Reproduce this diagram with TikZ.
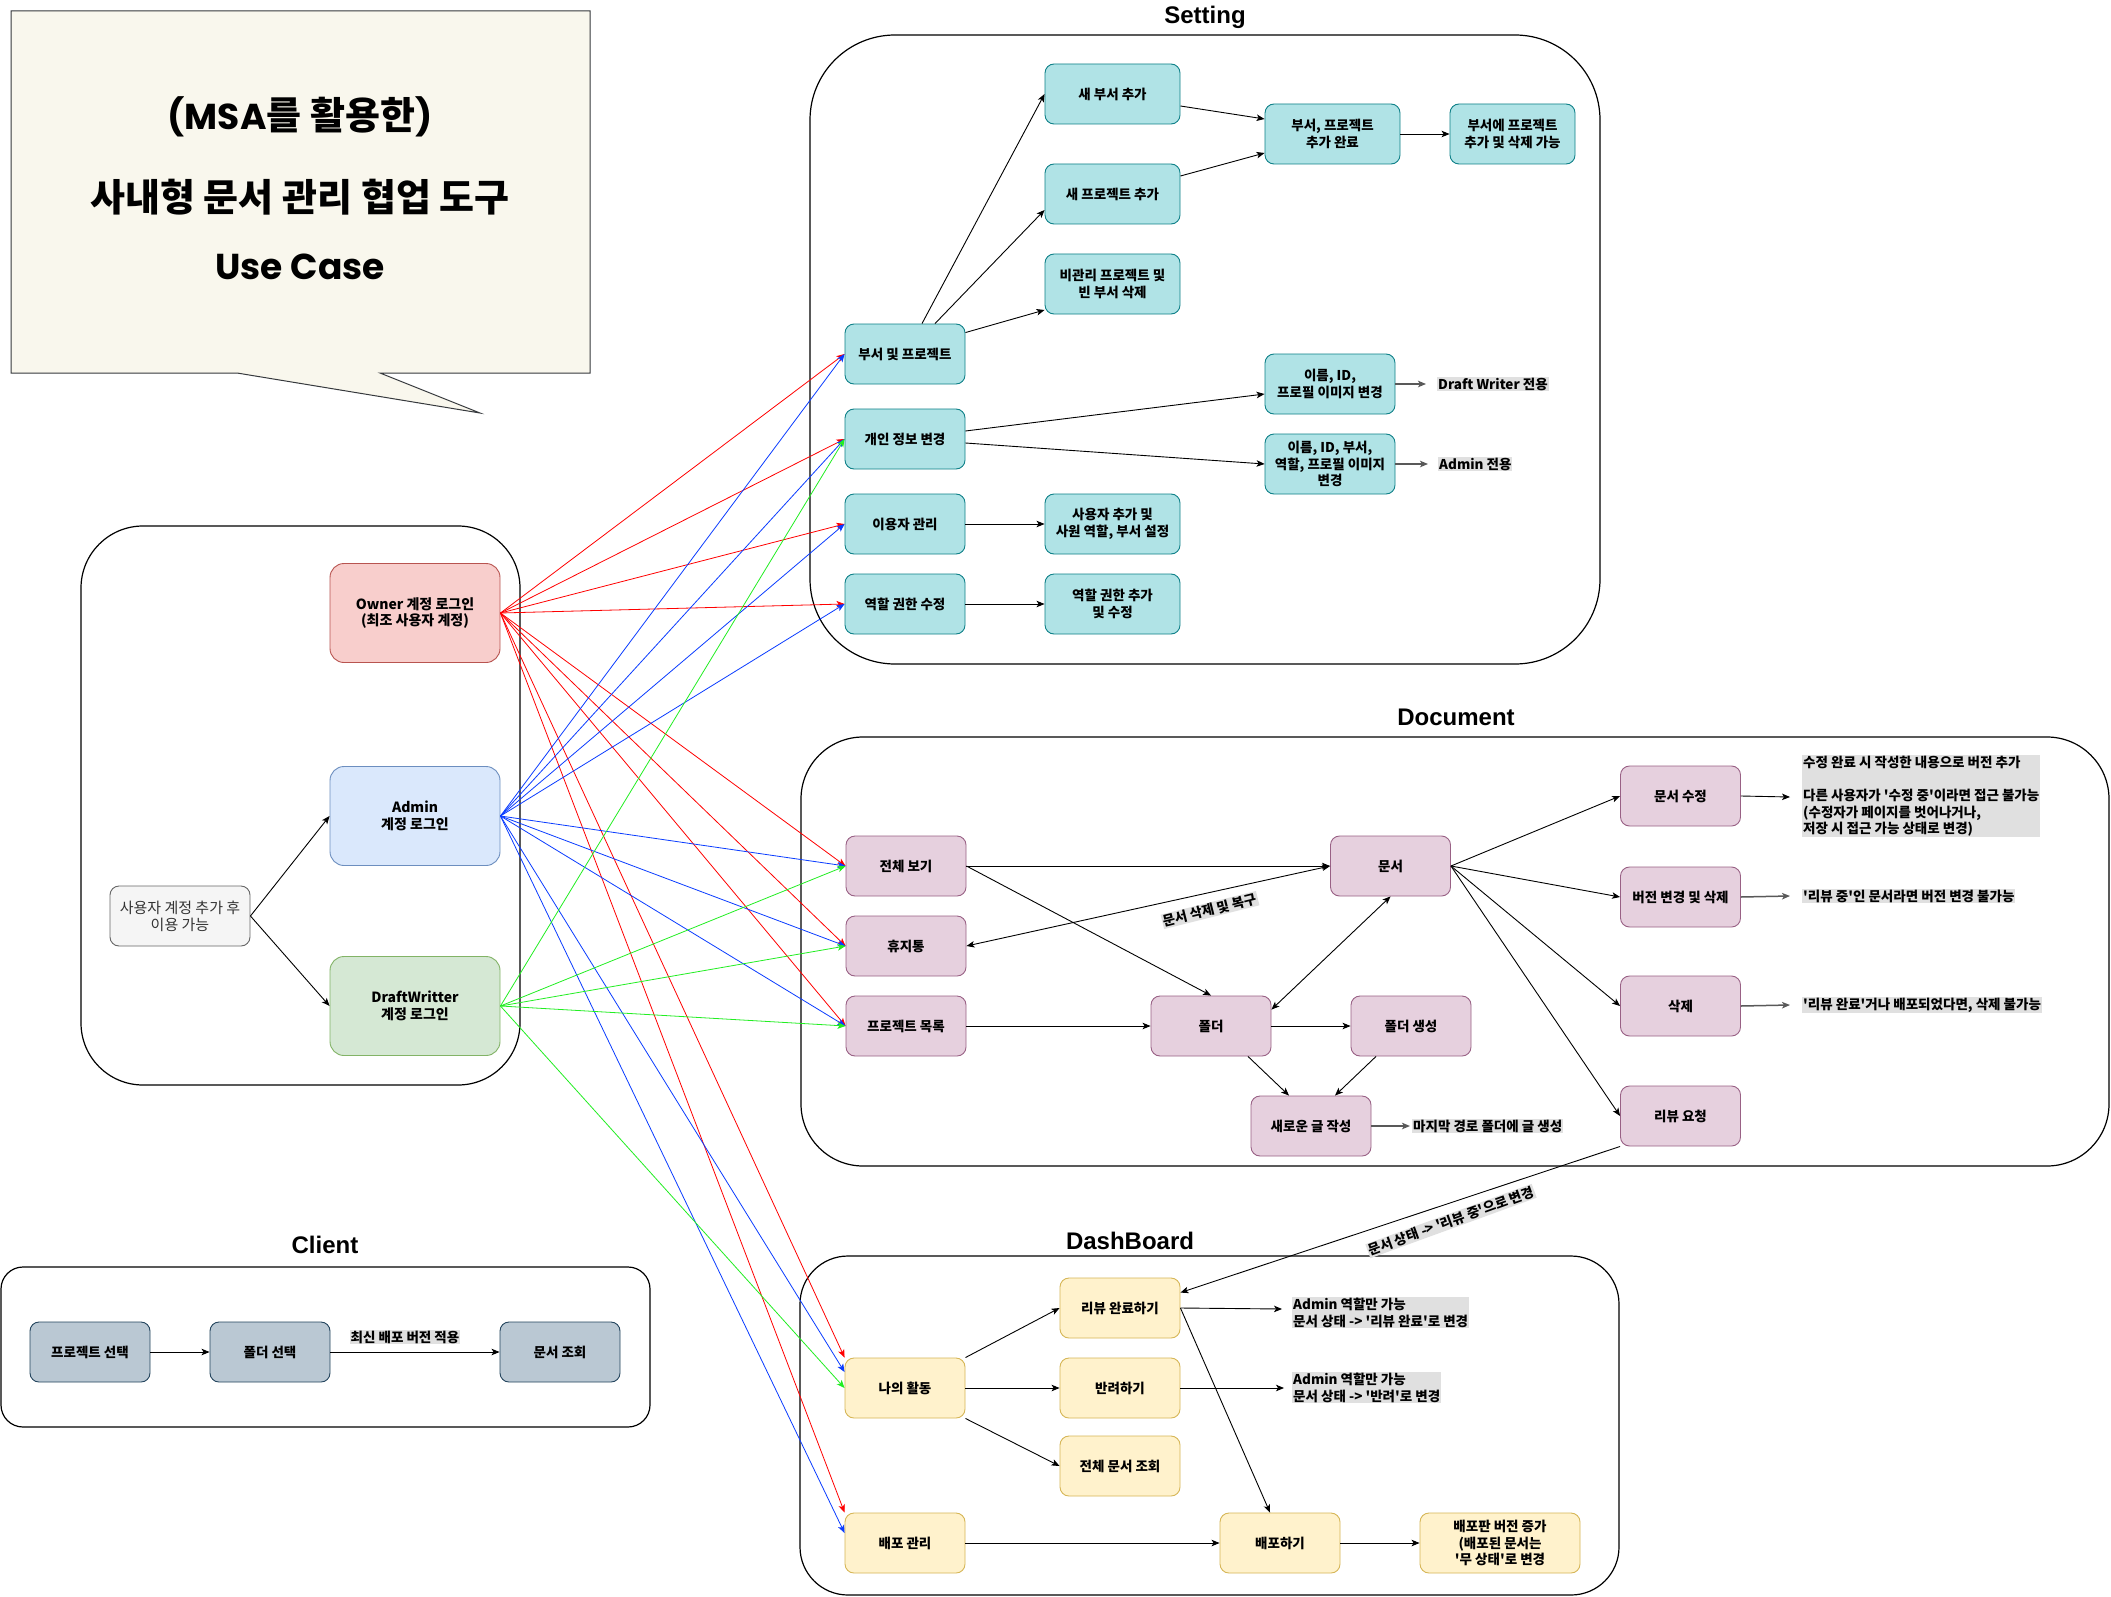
\documentclass[tikz,border=0pt]{standalone}
\usepackage{fontspec}
\setmainfont{Noto Sans CJK KR}
\newfontfamily\headfont{Liberation Sans}
\newfontfamily\titlelat{Poppins}
\newfontfamily\titlekr{Noto Sans CJK KR}
\usetikzlibrary{arrows.meta,calc}
\newcommand{\q}{\textquotesingle}
\definecolor{setF}{HTML}{B0E3E6}\definecolor{setD}{HTML}{0E8088}
\definecolor{docF}{HTML}{E6D0DE}\definecolor{docD}{HTML}{996185}
\definecolor{dashF}{HTML}{FFF2CC}\definecolor{dashD}{HTML}{D6B656}
\definecolor{cliF}{HTML}{BAC8D3}\definecolor{cliD}{HTML}{23445D}
\definecolor{ownF}{HTML}{F8CECC}\definecolor{ownD}{HTML}{B85450}
\definecolor{admF}{HTML}{DAE8FC}\definecolor{admD}{HTML}{6C8EBF}
\definecolor{dwF}{HTML}{D5E8D4}\definecolor{dwD}{HTML}{82B366}
\definecolor{usrF}{HTML}{F5F5F5}\definecolor{usrD}{HTML}{666666}\definecolor{usrT}{HTML}{333333}
\definecolor{noteF}{HTML}{F9F7ED}\definecolor{noteD}{HTML}{36393D}
\definecolor{lblF}{HTML}{E0E0E0}
\definecolor{lnR}{HTML}{FF0000}\definecolor{lnB}{HTML}{0A3CFF}\definecolor{lnG}{HTML}{22EE22}
\begin{document}
\begin{tikzpicture}[x=1pt,y=-1pt,
  box/.style={rounded corners=9pt, line width=0.9pt, minimum width=120pt, minimum height=60pt, align=center, inner sep=1pt, font=\bfseries\fontsize{13.5}{16.5}\selectfont},
  setb/.style={box, fill=setF, draw=setD},
  docb/.style={box, fill=docF, draw=docD},
  dashb/.style={box, fill=dashF, draw=dashD},
  clib/.style={box, fill=cliF, draw=cliD},
  actor/.style={box, minimum width=170pt, minimum height=99pt, rounded corners=14pt, font=\bfseries\fontsize{14}{16.5}\selectfont},
  lbl/.style={fill=lblF, inner sep=1pt, align=left, font=\bfseries\fontsize{13.5}{16.5}\selectfont},
  cont/.style={draw=black, line width=1.2pt},
  head/.style={font=\headfont\bfseries\fontsize{24}{28}\selectfont},
  arr/.style={-{Stealth[length=8pt,width=6.5pt,inset=2pt]}, line width=0.9pt},
  darr/.style={{Stealth[length=8pt,width=6.5pt,inset=2pt]}-{Stealth[length=8pt,width=6.5pt,inset=2pt]}, line width=0.9pt},
  grarr/.style={arr, draw=black!65, line width=1.5pt},
  rarr/.style={arr, draw=lnR, line width=0.8pt},
  barr/.style={arr, draw=lnB, line width=0.8pt},
  gnarr/.style={arr, draw=lnG, line width=0.8pt}]
\fill[white] (0,0) rectangle (2111,1597);
\useasboundingbox (0,0) rectangle (2111,1597);

% title bubble
\draw[fill=noteF, draw=noteD, line width=1pt] (11,11) -- (590,11) -- (590,373) -- (380,373) -- (480,413) -- (237,373) -- (11,373) -- cycle;
\node (T1) at (300,117) {\titlelat\bfseries\fontsize{36}{42}\selectfont (MSA{\titlekr\bfseries\fontsize{38}{42}\selectfont 를 활용한})};
\node (T2) at (300,197) {\titlekr\bfseries\fontsize{38}{42}\selectfont 사내형 문서 관리 협업 도구};
\node (T3) at (300,267) {\titlelat\bfseries\fontsize{36}{42}\selectfont Use Case};

% containers
\draw[cont, rounded corners=85pt] (810,35) rectangle (1600,664);
\node[head] (HS) at (1205,17) {Setting};
\draw[cont, rounded corners=62pt] (81,526) rectangle (520,1085);
\draw[cont, rounded corners=62pt] (801,737) rectangle (2109,1166);
\node[head] (HD) at (1456,717) {Document};
\draw[cont, rounded corners=48pt] (800,1256) rectangle (1619,1595);
\node[head] (HB) at (1130,1241) {DashBoard};
\draw[cont, rounded corners=22pt] (1,1267) rectangle (650,1427);
\node[head] (HC) at (325,1245) {Client};

% actors
\node[actor, fill=ownF, draw=ownD] (OW) at (415,613) {Owner 계정 로그인\\(최조 사용자 계정)};
\node[actor, fill=admF, draw=admD] (AD) at (415,816) {Admin\\계정 로그인};
\node[actor, fill=dwF, draw=dwD] (DW) at (415,1006) {DraftWritter\\계정 로그인};
\node[box, fill=usrF, draw=usrD, text=usrT, minimum width=140pt, font=\fontsize{15}{17}\selectfont] (US) at (180,916) {사용자 계정 추가 후\\이용 가능};

% setting boxes
\node[setb, minimum width=135pt] (SA) at (1112.5,94) {새 부서 추가};
\node[setb, minimum width=135pt] (SB) at (1112.5,194) {새 프로젝트 추가};
\node[setb, minimum width=135pt] (SC) at (1112.5,284) {비관리 프로젝트 및\\빈 부서 삭제};
\node[setb, minimum width=135pt] (SD) at (1332.5,134) {부서, 프로젝트\\추가 완료};
\node[setb, minimum width=125pt] (SE) at (1512.5,134) {부서에 프로젝트\\추가 및 삭제 가능};
\node[setb] (S1) at (905,354) {부서 및 프로젝트};
\node[setb] (S2) at (905,439) {개인 정보 변경};
\node[setb] (S3) at (905,524) {이용자 관리};
\node[setb] (S4) at (905,604) {역할 권한 수정};
\node[setb, minimum width=135pt] (S5) at (1112.5,524) {사용자 추가 및\\사원 역할, 부서 설정};
\node[setb, minimum width=135pt] (S6) at (1112.5,604) {역할 권한 추가\\및 수정};
\node[setb, minimum width=130pt] (S7) at (1330,384) {이름, ID,\\프로필 이미지 변경};
\node[setb, minimum width=130pt] (S8) at (1330,464) {이름, ID, 부서,\\역할, 프로필 이미지\\변경};
\node[lbl, anchor=west] (LS7) at (1437,384) {Draft Writer 전용};
\node[lbl, anchor=west] (LS8) at (1438,464) {Admin 전용};

% document boxes
\node[docb] (D1) at (906,866) {전체 보기};
\node[docb] (D2) at (906,946) {휴지통};
\node[docb] (D3) at (906,1026) {프로젝트 목록};
\node[docb] (D4) at (1390.5,866) {문서};
\node[docb] (D5) at (1211,1026) {폴더};
\node[docb] (D6) at (1411,1026) {폴더 생성};
\node[docb] (D7) at (1311,1126) {새로운 글 작성};
\node[docb] (D8) at (1680.5,796) {문서 수정};
\node[docb] (D9) at (1680.5,897) {버전 변경 및 삭제};
\node[docb] (D10) at (1680.5,1006) {삭제};
\node[docb] (D11) at (1680.5,1116) {리뷰 요청};
\node[lbl, anchor=west] (LD7) at (1412,1126) {마지막 경로 폴더에 글 생성};
\node[lbl, anchor=north west] (LD8) at (1802,755) {수정 완료 시 작성한 내용으로 버전 추가\\[16.5pt]다른 사용자가 \q{}수정 중\q{}이라면 접근 불가능\\(수정자가 페이지를 벗어나거나,\\저장 시 접근 가능 상태로 변경)};
\node[lbl, anchor=west] (LD9) at (1802,896) {\q{}리뷰 중\q{}인 문서라면 버전 변경 불가능};
\node[lbl, anchor=west] (LD10) at (1802,1005) {\q{}리뷰 완료\q{}거나 배포되었다면, 삭제 불가능};
\node[lbl, rotate=14] (LDel) at (1210,910) {문서 삭제 및 복구};

% dashboard boxes
\node[dashb] (R0) at (905,1388) {나의 활동};
\node[dashb] (R5) at (905,1543) {배포 관리};
\node[dashb] (R1) at (1120,1308) {리뷰 완료하기};
\node[dashb] (R2) at (1120,1388) {반려하기};
\node[dashb] (R3) at (1120,1466) {전체 문서 조회};
\node[dashb] (R4) at (1280,1543) {배포하기};
\node[dashb, minimum width=160pt] (R6) at (1500,1543) {배포판 버전 증가\\(배포된 문서는\\\q{}무 상태\q{}로 변경};
\node[lbl, anchor=north west] (L1) at (1292,1297) {Admin 역할만 가능\\문서 상태 -> \q{}리뷰 완료\q{}로 변경};
\node[lbl, anchor=north west] (L2) at (1292,1372) {Admin 역할만 가능\\문서 상태 -> \q{}반려\q{}로 변경};

% client boxes
\node[clib] (C1) at (90,1352) {프로젝트 선택};
\node[clib] (C2) at (270,1352) {폴더 선택};
\node[clib] (C3) at (560,1352) {문서 조회};
\node[lbl] (LC) at (405,1337) {최신 배포 버전 적용};

% user box arrows
\draw[arr] (US.east) -- (AD.west);
\draw[arr] (US.east) -- (DW.west);

% setting arrows
\draw[arr] ($(S1.north)+(17,0)$) -- (SA.west);
\draw[arr] ($(S1.north)+(30,0)$) -- ($(SB.west)+(0,16)$);
\draw[arr] ($(S1.north east)+(0,9)$) -- ($(SC.west)+(0,26)$);
\draw[arr] ($(SA.east)+(0,12)$) -- ($(SD.west)+(0,-15)$);
\draw[arr] ($(SB.east)+(0,-18)$) -- ($(SD.west)+(0,19)$);
\draw[arr] (SD.east) -- (SE.west);
\draw[arr] ($(S2.east)+(0,-8)$) -- ($(S7.west)+(0,10)$);
\draw[arr] ($(S2.east)+(0,4)$) -- (S8.west);
\draw[arr] (S3.east) -- (S5.west);
\draw[arr] (S4.east) -- (S6.west);
\draw[grarr] (S7.east) -- ($(LS7.west)+(-11,0)$);
\draw[grarr] (S8.east) -- ($(LS8.west)+(-10,0)$);

% document arrows
\draw[arr] (D1.east) -- (D4.west);
\draw[arr] (D1.east) -- (D5.north);
\draw[darr] (D2.east) -- (D4.west);
\draw[arr] (D3.east) -- (D5.west);
\draw[darr] ($(D5.north east)+(0,14)$) -- (D4.south);
\draw[arr] (D5.east) -- (D6.west);
\draw[arr] ($(D5.south)+(37,0)$) -- ($(D7.north)+(-22,0)$);
\draw[arr] ($(D6.south)+(-35,0)$) -- ($(D7.north)+(24,0)$);
\draw[grarr] (D7.east) -- ($(LD7.west)+(-2,0)$);
\draw[arr] (D4.east) -- (D8.west);
\draw[arr] (D4.east) -- (D9.west);
\draw[arr] (D4.east) -- (D10.west);
\draw[arr] (D4.east) -- (D11.west);
\draw[arr] (D8.east) -- ($(LD8.north west)+(-12,42)$);
\draw[grarr] (D9.east) -- ($(LD9.west)+(-12,0)$);
\draw[grarr] (D10.east) -- ($(LD10.west)+(-12,0)$);
\draw[arr] (D11.south west) -- ($(R1.north east)+(0,15)$);
\node[lbl, rotate=20] (LRev) at (1451,1221) {문서 상태 -> \q{}리뷰 중\q{}으로 변경};

% dashboard arrows
\draw[arr] (R0.north east) -- (R1.west);
\draw[arr] (R0.east) -- (R2.west);
\draw[arr] (R0.south east) -- (R3.west);
\draw[arr] (R1.east) -- ($(L1.north west)+(-10,12)$);
\draw[arr] (R2.east) -- ($(L2.north west)+(-8,16)$);
\draw[arr] (R1.east) -- ($(R4.north)+(-10,0)$);
\draw[arr] (R5.east) -- (R4.west);
\draw[arr] (R4.east) -- (R6.west);

% client arrows
\draw[arr] (C1.east) -- (C2.west);
\draw[arr] (C2.east) -- (C3.west);

% owner (red)
\foreach \t in {S1,S2,S3,S4,D1,D2,D3} {\draw[rarr] (OW.east) -- (\t.west);}
\draw[rarr] (OW.east) -- (R0.north west);
\draw[rarr] (OW.east) -- (R5.north west);
% admin (blue)
\foreach \t in {S1,S2,S3,S4,D1,D2,D3} {\draw[barr] (AD.east) -- (\t.west);}
\draw[barr] (AD.east) -- ($(R0.west)+(0,-16)$);
\draw[barr] (AD.east) -- ($(R5.west)+(0,-10)$);
% draft writer (green)
\foreach \t in {S2,D1,D2,D3,R0} {\draw[gnarr] (DW.east) -- (\t.west);}
\end{tikzpicture}
\end{document}
